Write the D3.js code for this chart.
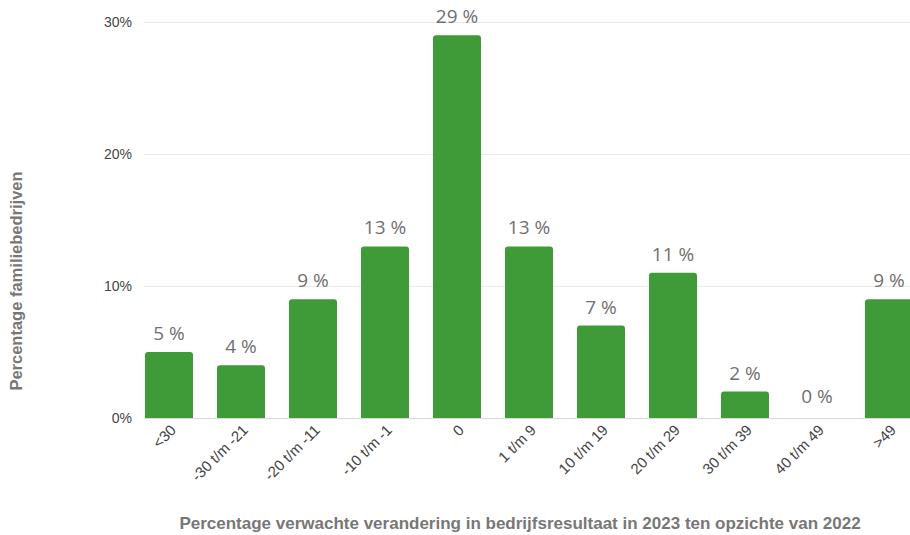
<!DOCTYPE html>
<html>
<head>
<meta charset="utf-8">
<script src="https://cdn.jsdelivr.net/npm/d3@7"></script>
<style>
  body { margin: 0; background: #fff; }
  svg { display: block; }
</style>
</head>
<body>
<svg width="910" height="535"></svg>
<script>
// chart data
var categories = ["<30", "-30 t/m -21", "-20 t/m -11", "-10 t/m -1", "0", "1 t/m 9",
    "10 t/m 19", "20 t/m 29", "30 t/m 39", "40 t/m 49", ">49"];
var values = [5, 4, 9, 13, 29, 13, 7, 11, 2, 0, 9];
var yTicks = [0, 10, 20, 30];

var svg = d3.select("svg"),
    width = +svg.attr("width"),
    height = +svg.attr("height");

var barColor = "#3f9b37";

var x = d3.scaleBand()
    .domain(categories)
    .range([144, 914])
    .paddingInner(1 / 3)
    .paddingOuter(0.014);

var y = d3.scaleLinear()
    .domain([0, 30])
    .range([418, 22]);

// gridlines
svg.append("g")
    .attr("class", "grid")
    .selectAll("line")
    .data(yTicks)
    .enter().append("line")
    .attr("x1", 144)
    .attr("x2", width)
    .attr("y1", function (d) { return y(d) + 0.5; })
    .attr("y2", function (d) { return y(d) + 0.5; })
    .attr("stroke", function (d) { return d === 0 ? "#d8d8d8" : "#e9e9e9"; })
    .attr("stroke-width", 1);

// y tick labels
svg.append("g")
    .selectAll("text")
    .data(yTicks)
    .enter().append("text")
    .attr("x", 132)
    .attr("y", function (d) { return y(d) + 5; })
    .attr("text-anchor", "end")
    .attr("font-family", "Liberation Sans, Arial, sans-serif")
    .attr("font-size", 14)
    .attr("fill", "#444")
    .text(function (d) { return d + "%"; });

// bars with rounded tops
var r = 3;
svg.append("g")
    .attr("class", "bars")
    .selectAll("path")
    .data(values)
    .enter().append("path")
    .attr("fill", barColor)
    .attr("d", function (d, i) {
        var x0 = x(categories[i]), w = x.bandwidth(),
            y0 = y(0), y1 = y(d);
        if (d === 0) return "";
        return "M" + x0 + "," + y0 +
            "V" + (y1 + r) +
            "Q" + x0 + "," + y1 + " " + (x0 + r) + "," + y1 +
            "H" + (x0 + w - r) +
            "Q" + (x0 + w) + "," + y1 + " " + (x0 + w) + "," + (y1 + r) +
            "V" + y0 + "Z";
    });

// value labels
svg.append("g")
    .selectAll("text")
    .data(values)
    .enter().append("text")
    .attr("x", function (d, i) { return x(categories[i]) + x.bandwidth() / 2; })
    .attr("y", function (d) { return y(d) - (d === 0 ? 15 : 12); })
    .attr("text-anchor", "middle")
    .attr("font-family", "Open Sans, sans-serif")
    .attr("font-size", 19)
    .attr("fill", "#707070")
    .text(function (d) { return d + " %"; });

// x tick labels, rotated
svg.append("g")
    .selectAll("text")
    .data(categories)
    .enter().append("text")
    .attr("transform", function (d) {
        return "translate(" + (x(d) + x.bandwidth() / 2 + 8) + ",431) rotate(-45)";
    })
    .attr("text-anchor", "end")
    .attr("font-family", "Liberation Sans, Arial, sans-serif")
    .attr("font-size", 15)
    .attr("fill", "#444")
    .text(function (d) { return d; });

// axis titles
svg.append("text")
    .attr("x", 520)
    .attr("y", 529)
    .attr("text-anchor", "middle")
    .attr("font-family", "Liberation Sans, Arial, sans-serif")
    .attr("font-weight", "bold")
    .attr("font-size", 17)
    .attr("fill", "#777")
    .text("Percentage verwachte verandering in bedrijfsresultaat in 2023 ten opzichte van 2022");

svg.append("text")
    .attr("transform", "translate(22,281) rotate(-90)")
    .attr("text-anchor", "middle")
    .attr("font-family", "Liberation Sans, Arial, sans-serif")
    .attr("font-weight", "bold")
    .attr("font-size", 16.5)
    .attr("fill", "#777")
    .text("Percentage familiebedrijven");
</script>
</body>
</html>
